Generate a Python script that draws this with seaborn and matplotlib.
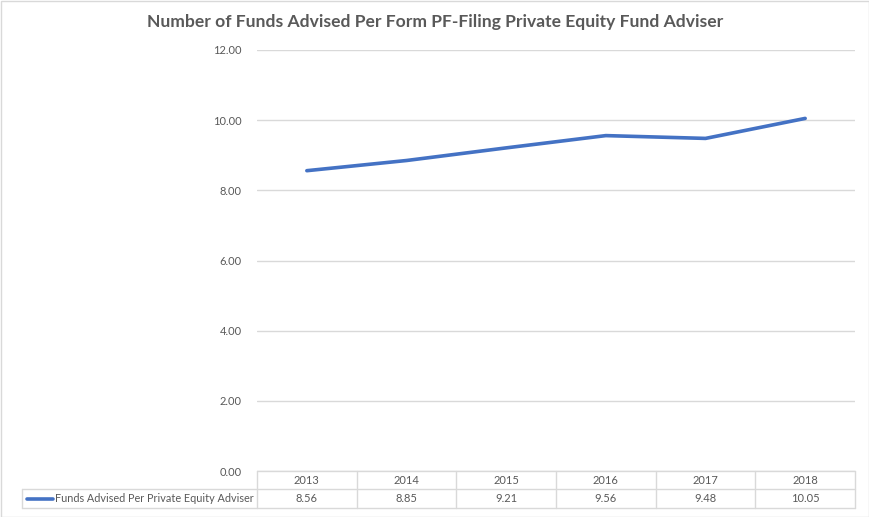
import numpy as np
import pandas as pd
import seaborn as sns
import matplotlib.pyplot as plt
from matplotlib.lines import Line2D

years = ["2013", "2014", "2015", "2016", "2017", "2018"]
values = [8.56, 8.85, 9.21, 9.56, 9.48, 10.05]
series_name = "Funds Advised Per Private Equity Adviser"
title = "Number of Funds Advised Per Form PF-Filing Private Equity Fund Adviser"

W, H = 870, 517
grey_text = "#595959"
grid_col = "#D9D9D9"
blue = "#4472C4"

sns.set_style("white")
plt.rcParams['font.family'] = ['Lato', 'DejaVu Sans']

fig = plt.figure(figsize=(W / 100, H / 100), dpi=100)

# plot area in pixel coordinates
left, right, top, bottom = 257, 855, 50, 471


def fx(px):
    return px / W


def fy(py):
    return 1 - py / H


ax = fig.add_axes([fx(left), fy(bottom), fx(right - left), fy(top) - fy(bottom)])

df = pd.DataFrame({"idx": np.arange(len(years)), "value": values})
sns.lineplot(data=df, x="idx", y="value", ax=ax, color=blue, linewidth=2.6)

ax.set_xlim(-0.5, len(years) - 0.5)
ax.set_ylim(0, 12)
ax.set_yticks(np.arange(0, 13, 2))
ax.set_yticklabels([f"{v:.2f}" for v in np.arange(0, 13, 2)], color=grey_text, fontsize=8)
ax.tick_params(axis="y", length=0, pad=11)
ax.set_xticks([])
ax.set_xlabel("")
ax.set_ylabel("")
ax.yaxis.grid(True, color=grid_col, linewidth=1)
ax.set_axisbelow(True)
for s in ax.spines.values():
    s.set_visible(False)

# data table below the plot
row1, row2, row3 = 471, 489, 508
col_w = (right - left) / len(years)
lab_left = 22


def hline(x0, x1, y):
    fig.add_artist(Line2D([fx(x0), fx(x1)], [fy(y), fy(y)], color=grid_col, linewidth=1))


def vline(x, y0, y1):
    fig.add_artist(Line2D([fx(x), fx(x)], [fy(y0), fy(y1)], color=grid_col, linewidth=1))


hline(left, right, row1)
hline(lab_left, right, row2)
hline(lab_left, right, row3)
vline(lab_left, row2, row3)
for k in range(len(years) + 1):
    vline(left + k * col_w, row1, row3)

for k, (yr, v) in enumerate(zip(years, values)):
    cx = left + (k + 0.5) * col_w
    fig.text(fx(cx), fy((row1 + row2) / 2), yr, ha="center", va="center",
             fontsize=8, color=grey_text)
    fig.text(fx(cx), fy((row2 + row3) / 2), f"{v:.2f}", ha="center", va="center",
             fontsize=8, color=grey_text)

# legend key in the row header
ym = (row2 + row3) / 2
fig.add_artist(Line2D([fx(27), fx(53)], [fy(ym), fy(ym)], color=blue, linewidth=2.6))
fig.text(fx(55), fy(ym), series_name, ha="left", va="center", fontsize=7.8, color=grey_text)

# title
fig.text(0.5, fy(22), title, ha="center", va="center", fontsize=12.6,
         fontweight="bold", color=grey_text)

# chart border
fig.add_artist(plt.Rectangle((fx(0.5), fy(516.5)), fx(869), fy(0.5) - fy(516.5),
                             fill=False, edgecolor=grid_col, linewidth=1))

fig.savefig("out.png", dpi=100)
